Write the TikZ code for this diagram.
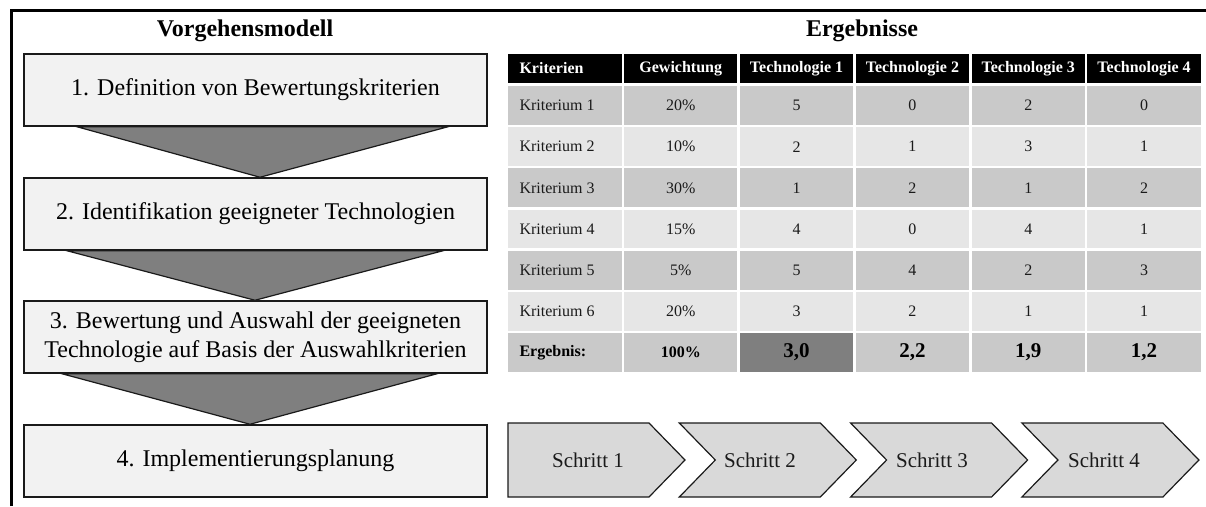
\documentclass[tikz,border=0pt]{standalone}
\usepackage{fontspec}
\setmainfont{Liberation Serif}
\usetikzlibrary{calc}

\definecolor{boxfill}{HTML}{F2F2F2}
\definecolor{arrowfill}{HTML}{7F7F7F}
\definecolor{rowdark}{HTML}{C9C9C9}
\definecolor{rowlight}{HTML}{E6E6E6}
\definecolor{bestcell}{HTML}{7F7F7F}
\definecolor{chevfill}{HTML}{D9D9D9}
\definecolor{ink}{HTML}{1A1A1A}

\tikzset{
  frameline/.style={line width=3pt, black},
  title/.style={font=\fontsize{24}{28}\selectfont\bfseries, text=black},
  stepbox/.style={draw=ink, line width=1.5pt, fill=boxfill, minimum width=463pt,
    minimum height=72pt, align=center, inner sep=0pt,
    font=\fontsize{24}{29}\selectfont, text=black},
  funnel/.style={draw=ink, line width=1.2pt, fill=arrowfill, line join=miter},
  headcell/.style={fill=black},
  headtext/.style={font=\fontsize{16}{19}\selectfont\bfseries, text=white},
  celltext/.style={font=\fontsize{16}{19}\selectfont, text=ink},
  boldtext/.style={font=\fontsize{16}{19}\selectfont\bfseries, text=black},
  bigtext/.style={font=\fontsize{21}{24}\selectfont\bfseries, text=black},
  chevron/.style={draw=ink, line width=1.2pt, fill=chevfill, line join=miter},
  chevtext/.style={font=\fontsize{21}{24}\selectfont, text=ink}
}

\begin{document}
\begin{tikzpicture}[x=1pt, y=-1pt]
\useasboundingbox (0,0) rectangle (1206,506);

% outer frame (top and left edges)
\draw[frameline] (11,506) -- (11,10) -- (1206,10);

% ---------- left column: procedure model ----------
\node[title] (tleft) at (245,31) {Vorgehensmodell};

\node[stepbox] (b1) at (255.5,90)  {1. Definition von Bewertungskriterien};
\node[stepbox] (b2) at (255.5,214) {2. Identifikation geeigneter Technologien};
\node[stepbox] (b3) at (255.5,337) {3. Bewertung und Auswahl der geeigneten\\Technologie auf Basis der Auswahlkriterien};
\node[stepbox] (b4) at (255.5,461) {4. Implementierungsplanung};

% funnels between the steps
\draw[funnel] (b1.south -| 77,0) -- (b1.south -| 448,0) -- (b2.north -| 260,0) -- cycle;
\draw[funnel] (b2.south -| 67,0) -- (b2.south -| 443,0) -- (b3.north -| 255,0) -- cycle;
\draw[funnel] (b3.south -| 62,0) -- (b3.south -| 437,0) -- (b4.north -| 250,0) -- cycle;

% ---------- right column: results ----------
\node[title] (tright) at (862,31) {Ergebnisse};

\def\colL{507}
\def\colW{115.83}
\def\rowT{85}
\def\rowH{41.14}

% header row
\foreach \c/\txt in {0/Kriterien,1/Gewichtung,2/Technologie 1,3/Technologie 2,4/Technologie 3,5/Technologie 4}{
  \fill[headcell] ({\colL+\c*\colW+1.2},54) rectangle ({\colL+(\c+1)*\colW-1.2},83);
  \ifnum\c=0
    \node[headtext, anchor=west] (h\c) at ({\colL+9},68.5) {\txt};
  \else
    \node[headtext] (h\c) at ({\colL+(\c+0.5)*\colW},68.5) {\txt};
  \fi
}

% body backgrounds (alternating shades)
\foreach \r in {1,...,7}{
  \pgfmathsetmacro{\shade}{mod(\r,2)}
  \foreach \c in {0,...,5}{
    \ifdim\shade pt=1pt
      \fill[rowdark] ({\colL+\c*\colW+1.2},{\rowT+(\r-1)*\rowH+1.2}) rectangle ({\colL+(\c+1)*\colW-1.2},{\rowT+\r*\rowH-1.2});
    \else
      \fill[rowlight] ({\colL+\c*\colW+1.2},{\rowT+(\r-1)*\rowH+1.2}) rectangle ({\colL+(\c+1)*\colW-1.2},{\rowT+\r*\rowH-1.2});
    \fi
  }
}
% highlighted best result
\fill[bestcell] ({\colL+2*\colW+1.2},{\rowT+6*\rowH+1.2}) rectangle ({\colL+3*\colW-1.2},{\rowT+7*\rowH-1.2});

% body values
\foreach \r/\k/\w/\ta/\tb/\tc/\td in {
  1/Kriterium 1/20\%/5/0/2/0,
  2/Kriterium 2/10\%/2/1/3/1,
  3/Kriterium 3/30\%/1/2/1/2,
  4/Kriterium 4/15\%/4/0/4/1,
  5/Kriterium 5/5\%/5/4/2/3,
  6/Kriterium 6/20\%/3/2/1/1}{
  \pgfmathsetmacro{\yc}{\rowT+(\r-0.5)*\rowH}
  \node[celltext, anchor=west] (k\r) at ({\colL+9},\yc) {\k};
  \node[celltext] (w\r) at ({\colL+1.5*\colW},\yc) {\w};
  \node[celltext] (ta\r) at ({\colL+2.5*\colW},\yc) {\ta};
  \node[celltext] (tb\r) at ({\colL+3.5*\colW},\yc) {\tb};
  \node[celltext] (tc\r) at ({\colL+4.5*\colW},\yc) {\tc};
  \node[celltext] (td\r) at ({\colL+5.5*\colW},\yc) {\td};
}

% result row
\pgfmathsetmacro{\ye}{\rowT+6.5*\rowH}
\node[boldtext, anchor=west] (k7) at ({\colL+9},\ye) {Ergebnis:};
\node[boldtext] (w7) at ({\colL+1.5*\colW},\ye) {100\%};
\node[bigtext] (ta7) at ({\colL+2.5*\colW},\ye) {3,0};
\node[bigtext] (tb7) at ({\colL+3.5*\colW},\ye) {2,2};
\node[bigtext] (tc7) at ({\colL+4.5*\colW},\ye) {1,9};
\node[bigtext] (td7) at ({\colL+5.5*\colW},\ye) {1,2};

% ---------- implementation steps (chevrons) ----------
\def\chT{423}
\def\chB{497}
\def\chM{460}
% first chevron has a flat left edge
\draw[chevron] (508,\chT) -- (649,\chT) -- (685,\chM) -- (649,\chB) -- (508,\chB) -- cycle;
\foreach \k in {1,2,3}{
  \pgfmathsetmacro{\L}{508+\k*171.3}
  \draw[chevron] (\L,\chT) -- ({\L+141},\chT) -- ({\L+177},\chM) -- ({\L+141},\chB)
    -- (\L,\chB) -- ({\L+36},\chM) -- cycle;
}
\node[chevtext] (s1) at (588,\chM) {Schritt 1};
\node[chevtext] (s2) at (760,\chM) {Schritt 2};
\node[chevtext] (s3) at (932,\chM) {Schritt 3};
\node[chevtext] (s4) at (1104,\chM) {Schritt 4};

\end{tikzpicture}
\end{document}
